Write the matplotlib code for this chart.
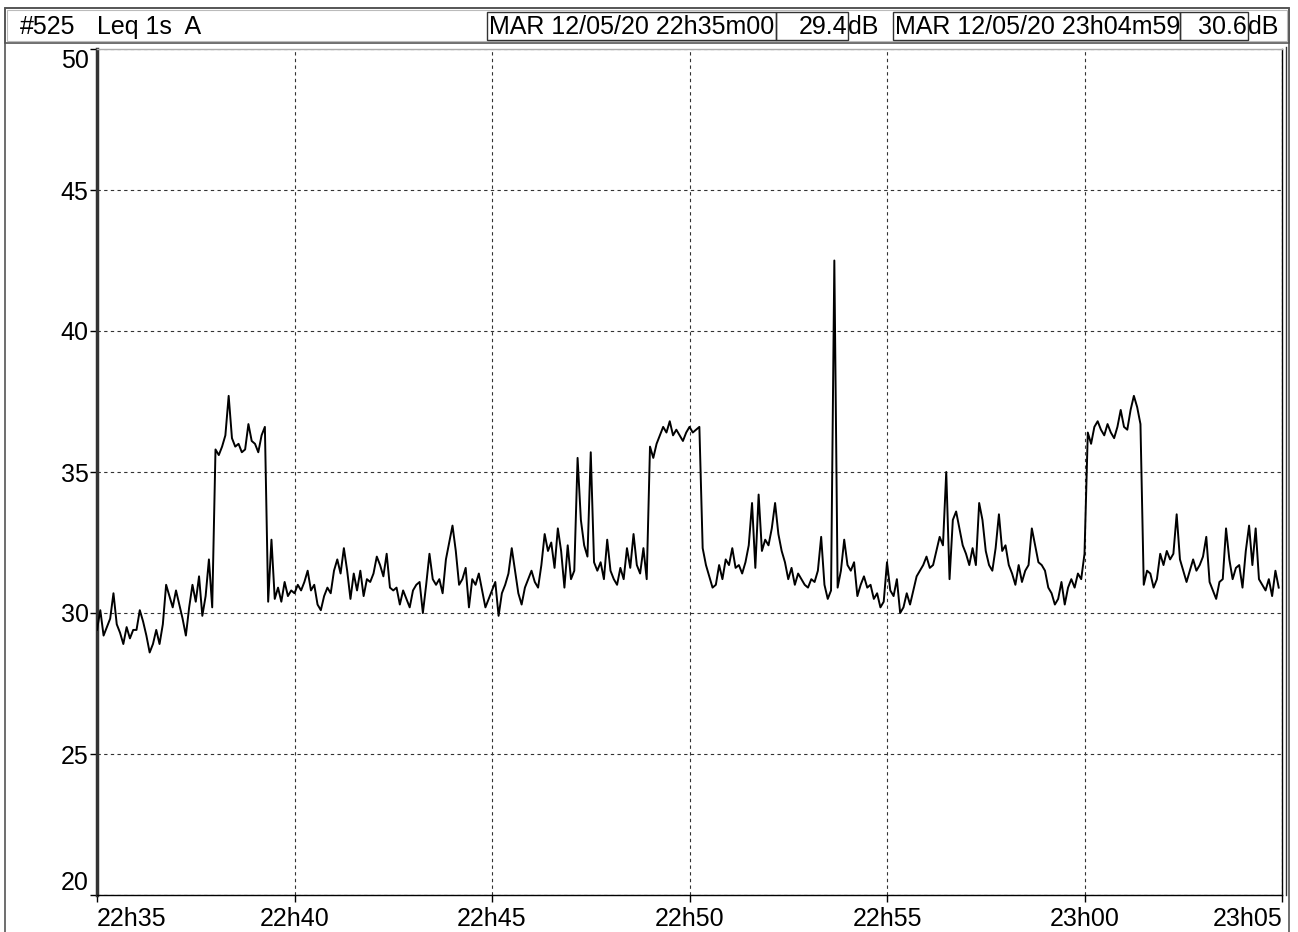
import numpy as np
import matplotlib
matplotlib.use('Agg')
import matplotlib.pyplot as plt
from matplotlib.patches import Rectangle

# Leq 1s A, one value read every 5 s (one row = one minute), 22h35m00 -> 23h04m55
leq = [
    29.4, 30.1, 29.2, 29.5, 29.8, 30.7, 29.6, 29.3, 28.9, 29.5, 29.1, 29.4,
    29.4, 30.1, 29.7, 29.2, 28.6, 28.9, 29.4, 28.9, 29.6, 31.0, 30.6, 30.2,
    30.8, 30.3, 29.8, 29.2, 30.2, 31.0, 30.4, 31.3, 29.9, 30.6, 31.9, 30.2,
    35.8, 35.6, 35.9, 36.3, 37.7, 36.2, 35.9, 36.0, 35.7, 35.8, 36.7, 36.1,
    36.0, 35.7, 36.3, 36.6, 30.4, 32.6, 30.5, 30.9, 30.4, 31.1, 30.6, 30.8,
    30.7, 31.0, 30.8, 31.1, 31.5, 30.8, 31.0, 30.3, 30.1, 30.6, 30.9, 30.7,
    31.5, 31.9, 31.4, 32.3, 31.5, 30.5, 31.4, 30.8, 31.5, 30.6, 31.2, 31.1,
    31.4, 32.0, 31.7, 31.3, 32.1, 30.9, 30.8, 30.9, 30.3, 30.8, 30.5, 30.2,
    30.8, 31.0, 31.1, 30.0, 31.0, 32.1, 31.2, 31.0, 31.2, 30.7, 31.9, 32.5,
    33.1, 32.2, 31.0, 31.2, 31.6, 30.2, 31.2, 31.0, 31.4, 30.8, 30.2, 30.5,
    30.8, 31.1, 29.9, 30.7, 31.0, 31.4, 32.3, 31.5, 30.7, 30.3, 30.9, 31.2,
    31.5, 31.1, 30.9, 31.7, 32.8, 32.2, 32.5, 31.6, 33.0, 32.2, 30.9, 32.4,
    31.2, 31.5, 35.5, 33.3, 32.4, 32.0, 35.7, 31.8, 31.5, 31.8, 31.2, 32.6,
    31.5, 31.2, 31.0, 31.6, 31.2, 32.3, 31.6, 32.8, 31.7, 31.4, 32.3, 31.2,
    35.9, 35.5, 36.0, 36.3, 36.6, 36.4, 36.8, 36.3, 36.5, 36.3, 36.1, 36.4,
    36.6, 36.4, 36.5, 36.6, 32.3, 31.7, 31.3, 30.9, 31.0, 31.7, 31.2, 31.9,
    31.7, 32.3, 31.6, 31.7, 31.4, 31.8, 32.4, 33.9, 31.6, 34.2, 32.2, 32.6,
    32.4, 33.0, 33.9, 32.8, 32.2, 31.8, 31.2, 31.6, 31.0, 31.4, 31.2, 31.0,
    30.9, 31.2, 31.1, 31.5, 32.7, 31.0, 30.5, 30.8, 42.5, 30.9, 31.5, 32.6,
    31.7, 31.5, 31.8, 30.6, 31.0, 31.3, 30.9, 31.0, 30.5, 30.7, 30.2, 30.4,
    31.8, 30.8, 30.6, 31.2, 30.0, 30.2, 30.7, 30.3, 30.8, 31.3, 31.5, 31.7,
    32.0, 31.6, 31.7, 32.2, 32.7, 32.4, 35.0, 31.2, 33.3, 33.6, 33.0, 32.4,
    32.1, 31.7, 32.3, 31.7, 33.9, 33.3, 32.2, 31.7, 31.5, 32.3, 33.5, 32.2,
    32.4, 31.7, 31.4, 31.0, 31.7, 31.1, 31.5, 31.7, 33.0, 32.4, 31.8, 31.7,
    31.5, 30.9, 30.7, 30.3, 30.5, 31.1, 30.3, 30.9, 31.2, 30.9, 31.4, 31.2,
    32.1, 36.4, 36.0, 36.6, 36.8, 36.5, 36.3, 36.7, 36.4, 36.2, 36.6, 37.2,
    36.6, 36.5, 37.2, 37.7, 37.3, 36.7, 31.0, 31.5, 31.4, 30.9, 31.2, 32.1,
    31.7, 32.2, 31.9, 32.1, 33.5, 31.9, 31.5, 31.1, 31.5, 31.9, 31.5, 31.7,
    32.0, 32.7, 31.1, 30.8, 30.5, 31.1, 31.2, 33.0, 31.9, 31.2, 31.6, 31.7,
    30.9, 32.2, 33.1, 31.7, 33.0, 31.2, 31.0, 30.8, 31.2, 30.6, 31.5, 30.9,
]
step_s = 5
tick_labels = ['22h35', '22h40', '22h45', '22h50', '22h55', '23h00', '23h05']
y_ticks = [20, 25, 30, 35, 40, 45, 50]
start_txt = 'MAR 12/05/20 22h35m00'
start_val = '29.4'
end_txt = 'MAR 12/05/20 23h04m59'
end_val = '30.6'

W, H = 1298, 932
plt.rcParams['font.family'] = ['Liberation Sans', 'DejaVu Sans']

fig = plt.figure(figsize=(W / 100, H / 100), dpi=100)

def fx(x):
    return x / W

def fy(y):
    return 1 - y / H

def box(x0, y0, x1, y1, ec='#333333', lw=1.0):
    fig.patches.append(Rectangle((fx(x0), fy(y1)), fx(x1) - fx(x0), fy(y0) - fy(y1),
                                 transform=fig.transFigure, fill=False,
                                 edgecolor=ec, lw=lw, zorder=5))

# outer frame and header strip
box(5, 8, 1289, 940, ec='#555555', lw=1.2)
box(5, 8, 1289, 43, ec='#555555', lw=1.2)
box(7, 10, 1287, 41, ec='#bbbbbb', lw=0.8)

fs = 18
ty = 27
fig.text(fx(20), fy(ty), '#525', fontsize=fs, va='center', ha='left')
fig.text(fx(97), fy(ty), 'Leq 1s  A', fontsize=fs, va='center', ha='left')

box(487, 12, 776, 40)
fig.text(fx(489), fy(ty), start_txt, fontsize=fs, va='center', ha='left')
box(776, 12, 848, 40)
fig.text(fx(847), fy(ty), start_val, fontsize=fs, va='center', ha='right')
fig.text(fx(848), fy(ty), 'dB', fontsize=fs, va='center', ha='left')

box(893, 12, 1180, 40)
fig.text(fx(895), fy(ty), end_txt, fontsize=fs, va='center', ha='left')
box(1180, 12, 1248, 40)
fig.text(fx(1247), fy(ty), end_val, fontsize=fs, va='center', ha='right')
fig.text(fx(1248), fy(ty), 'dB', fontsize=fs, va='center', ha='left')

# plot area
ax = fig.add_axes([fx(97), fy(895), fx(1282) - fx(97), fy(49) - fy(895)])
t = np.arange(len(leq)) * step_s
ax.plot(t, leq, color='black', lw=1.4, zorder=3)

ax.set_xlim(0, 1800)
ax.set_ylim(20, 50)
ax.set_xticks(np.arange(len(tick_labels)) * 300)
ax.set_xticklabels(tick_labels)
ax.set_yticks(y_ticks)
ax.tick_params(axis='both', labelsize=fs, direction='out', length=5, width=1, color='black')
ax.tick_params(axis='x', pad=4)
ax.tick_params(axis='y', pad=1)
xl = ax.get_xticklabels()
xl[0].set_ha('left')
xl[-1].set_ha('right')
yl = ax.get_yticklabels()
yl[0].set_va('bottom')
yl[-1].set_va('top')
ax.grid(True, linestyle=(0, (3, 3)), color='#333333', lw=0.8)

ax.spines['left'].set_linewidth(2.5)
ax.spines['left'].set_color('#333333')
ax.spines['bottom'].set_linewidth(1.0)
ax.spines['top'].set_color('#aaaaaa')
ax.spines['top'].set_linewidth(1.0)
ax.spines['right'].set_linewidth(1.0)
# second right edge line
fig.lines.append(plt.Line2D([fx(1286), fx(1286)], [fy(895), fy(47)],
                            transform=fig.transFigure, color='#333333', lw=1.0))

fig.savefig('out.png', dpi=100)
